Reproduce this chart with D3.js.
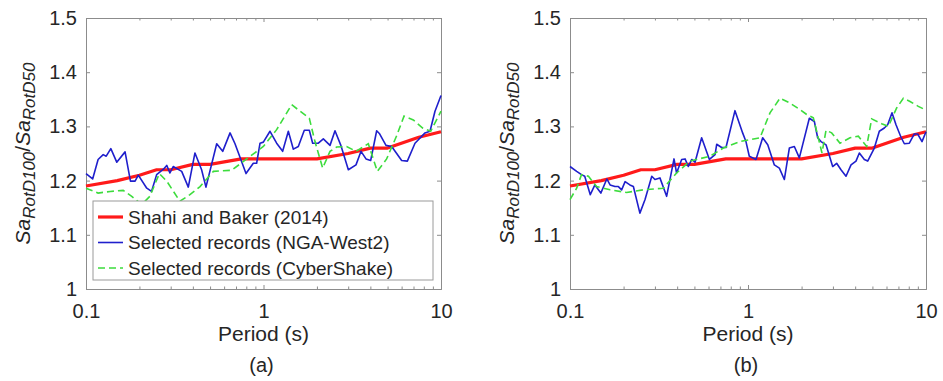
<!DOCTYPE html>
<html>
<head>
<meta charset="utf-8">
<script src="https://cdn.jsdelivr.net/npm/d3@7"></script>
<style>
  body { margin: 0; background: #fff; }
  text { font-family: "Liberation Sans", Arial, sans-serif; fill: #262626; }
</style>
</head>
<body>
<div id="chart"></div>
<script>
// Shahi and Baker (2014) model, same in both panels
const shahiT = [0.1, 0.15, 0.2, 0.25, 0.3, 0.4, 0.5, 0.75, 1, 1.5, 2, 3, 4, 5, 7.5, 10];
const shahiR = [1.19, 1.20, 1.21, 1.22, 1.22, 1.23, 1.23, 1.24, 1.24, 1.24, 1.24, 1.25, 1.26, 1.26, 1.28, 1.29];

// panel (a) - NGA-West2 selection
const ngaA_T = [0.100, 0.109, 0.117, 0.125, 0.130, 0.138, 0.149, 0.166, 0.178, 0.189, 0.197, 0.220, 0.234, 0.250,
  0.273, 0.285, 0.297, 0.310, 0.346, 0.377, 0.411, 0.448, 0.474, 0.545, 0.589, 0.648, 0.691, 0.797, 0.876, 0.915,
  0.956, 0.998, 1.088, 1.186, 1.282, 1.380, 1.473, 1.571, 1.698, 1.812, 1.892, 2.037, 2.173, 2.370, 2.528, 2.721,
  3.006, 3.320, 3.543, 3.780, 4.015, 4.341, 4.494, 4.899, 5.274, 6.003, 6.462, 7.136, 8.126, 8.670, 9.251, 10];
const ngaA_R = [1.213, 1.203, 1.239, 1.248, 1.245, 1.259, 1.234, 1.253, 1.199, 1.199, 1.210, 1.186, 1.180, 1.211,
  1.221, 1.228, 1.214, 1.226, 1.217, 1.188, 1.251, 1.220, 1.188, 1.268, 1.254, 1.288, 1.268, 1.213, 1.232, 1.232,
  1.269, 1.271, 1.291, 1.269, 1.254, 1.291, 1.258, 1.263, 1.293, 1.293, 1.269, 1.269, 1.277, 1.265, 1.292, 1.266,
  1.220, 1.229, 1.254, 1.240, 1.237, 1.292, 1.287, 1.265, 1.263, 1.237, 1.236, 1.269, 1.288, 1.291, 1.328, 1.357];

// panel (a) - CyberShake selection
const csA_T = [0.100, 0.117, 0.137, 0.162, 0.181, 0.206, 0.229, 0.259, 0.285, 0.338, 0.385, 0.439, 0.522, 0.662,
  0.804, 0.998, 1.186, 1.441, 1.812, 1.950, 2.154, 2.370, 2.584, 2.940, 3.320, 3.896, 4.378, 4.940, 5.630, 6.190,
  6.980, 7.880, 8.750, 10];
const csA_R = [1.186, 1.177, 1.180, 1.182, 1.171, 1.156, 1.171, 1.213, 1.199, 1.162, 1.174, 1.189, 1.217, 1.219,
  1.240, 1.263, 1.294, 1.340, 1.315, 1.272, 1.223, 1.254, 1.262, 1.263, 1.254, 1.268, 1.217, 1.240, 1.283, 1.319,
  1.312, 1.297, 1.291, 1.328];

// panel (b) - NGA-West2 selection
const ngaB_T = [0.100, 0.109, 0.116, 0.121, 0.130, 0.138, 0.149, 0.161, 0.168, 0.179, 0.187, 0.195, 0.204, 0.217,
  0.227, 0.247, 0.264, 0.288, 0.300, 0.320, 0.349, 0.384, 0.397, 0.424, 0.443, 0.462, 0.483, 0.504, 0.549, 0.607,
  0.653, 0.667, 0.711, 0.752, 0.845, 0.933, 0.974, 1.017, 1.109, 1.209, 1.291, 1.406, 1.500, 1.600, 1.707, 1.821,
  1.943, 2.211, 2.359, 2.463, 2.572, 2.744, 2.990, 3.148, 3.330, 3.553, 3.791, 4.044, 4.222, 4.504, 4.703, 5.126,
  5.467, 5.834, 6.091, 6.442, 6.784, 7.238, 7.557, 8.061, 8.600, 8.979, 9.496, 10];
const ngaB_R = [1.226, 1.217, 1.211, 1.208, 1.174, 1.192, 1.177, 1.203, 1.192, 1.189, 1.189, 1.183, 1.198, 1.192,
  1.189, 1.140, 1.165, 1.208, 1.202, 1.205, 1.171, 1.240, 1.214, 1.239, 1.240, 1.226, 1.239, 1.234, 1.279, 1.239,
  1.248, 1.267, 1.261, 1.261, 1.329, 1.288, 1.272, 1.245, 1.239, 1.279, 1.266, 1.229, 1.223, 1.202, 1.260, 1.263,
  1.242, 1.315, 1.309, 1.279, 1.272, 1.266, 1.226, 1.232, 1.220, 1.208, 1.229, 1.236, 1.251, 1.239, 1.236, 1.260,
  1.291, 1.297, 1.303, 1.325, 1.303, 1.280, 1.268, 1.269, 1.286, 1.286, 1.272, 1.290];

// panel (b) - CyberShake selection
const csB_T = [0.100, 0.109, 0.116, 0.127, 0.141, 0.168, 0.208, 0.258, 0.334, 0.397, 0.472, 0.612, 0.727, 0.902,
  1.168, 1.329, 1.513, 1.722, 1.960, 2.136, 2.328, 2.604, 2.744, 2.951, 3.288, 3.741, 4.168, 4.642, 4.952, 5.636,
  6.143, 6.842, 7.459, 8.132, 9.056, 10];
const csB_R = [1.165, 1.186, 1.211, 1.208, 1.189, 1.183, 1.178, 1.183, 1.186, 1.214, 1.236, 1.245, 1.260, 1.272,
  1.279, 1.325, 1.352, 1.343, 1.331, 1.322, 1.316, 1.251, 1.293, 1.288, 1.269, 1.279, 1.282, 1.263, 1.314, 1.305,
  1.300, 1.334, 1.352, 1.346, 1.337, 1.330];

const xTicks = [0.1, 1, 10];
const yTicks = [1, 1.1, 1.2, 1.3, 1.4, 1.5];
const legendLabels = ["Shahi and Baker (2014)", "Selected records (NGA-West2)", "Selected records (CyberShake)"];

const W = 943, H = 381;
const plotTop = 18, plotBottom = 289;
const axisColor = "#8c8c8c";

const svg = d3.select("#chart").append("svg")
  .attr("width", W)
  .attr("height", H);

svg.append("rect").attr("width", W).attr("height", H).attr("fill", "#fff");

function zip(T, R) {
  return T.map((t, i) => ({t: t, r: R[i]}));
}

function drawPanel(left, right, nga, cs, tag, withLegend) {
  const x = d3.scaleLog().domain([0.1, 10]).range([left, right]);
  const y = d3.scaleLinear().domain([1, 1.5]).range([plotBottom, plotTop]);
  const g = svg.append("g");

  const minor = x.ticks().filter(d => !xTicks.some(m => Math.abs(m - d) < 1e-9));

  // minor ticks (bottom and top, inward)
  g.append("g")
    .attr("transform", `translate(0,${plotBottom})`)
    .call(d3.axisBottom(x).tickValues(minor).tickSize(-2.5).tickFormat(""));
  g.append("g")
    .attr("transform", `translate(0,${plotTop})`)
    .call(d3.axisTop(x).tickValues(minor).tickSize(-2.5).tickFormat(""));

  // major axes
  const xb = g.append("g")
    .attr("transform", `translate(0,${plotBottom})`)
    .call(d3.axisBottom(x).tickValues(xTicks).tickSizeInner(-4).tickSizeOuter(0).tickPadding(15)
      .tickFormat(d3.format("")));
  g.append("g")
    .attr("transform", `translate(0,${plotTop})`)
    .call(d3.axisTop(x).tickValues(xTicks).tickSizeInner(-4).tickSizeOuter(0).tickFormat(""));
  const yl = g.append("g")
    .attr("transform", `translate(${left},0)`)
    .call(d3.axisLeft(y).tickValues(yTicks).tickSizeInner(-4).tickSizeOuter(0).tickPadding(9)
      .tickFormat(d => d === 1 ? "1" : d3.format(".1f")(d)));
  g.append("g")
    .attr("transform", `translate(${right},0)`)
    .call(d3.axisRight(y).tickValues(yTicks).tickSizeInner(-4).tickSizeOuter(0).tickFormat(""));

  g.selectAll(".domain, .tick line").attr("stroke", axisColor);
  xb.selectAll("text").attr("font-size", "20px").attr("font-family", null).attr("fill", "#262626");
  yl.selectAll("text").attr("font-size", "20px").attr("font-family", null).attr("fill", "#262626");
  g.selectAll(".tick text").attr("font-family", null);

  const line = d3.line().x(d => x(d.t)).y(d => y(d.r));

  g.append("path").datum(zip(shahiT, shahiR))
    .attr("fill", "none").attr("stroke", "#ff1a1a").attr("stroke-width", 3.2)
    .attr("stroke-linejoin", "round").attr("d", line);
  g.append("path").datum(nga)
    .attr("fill", "none").attr("stroke", "#1f1fcc").attr("stroke-width", 1.6)
    .attr("stroke-linejoin", "round").attr("d", line);
  g.append("path").datum(cs)
    .attr("fill", "none").attr("stroke", "#3ddc3d").attr("stroke-width", 1.6)
    .attr("stroke-dasharray", "7,4").attr("d", line);

  // axis titles
  const cx = (left + right) / 2;
  g.append("text").attr("x", cx).attr("y", 341).attr("text-anchor", "middle")
    .attr("font-size", "21px").text("Period (s)");
  g.append("text").attr("x", cx - 2).attr("y", 372).attr("text-anchor", "middle")
    .attr("font-size", "20px").text(tag);

  const yt = g.append("text")
    .attr("transform", `translate(${left - 56},${(plotTop + plotBottom) / 2}) rotate(-90)`)
    .attr("text-anchor", "middle")
    .attr("font-size", "21px")
    .attr("font-style", "italic");
  yt.append("tspan").text("Sa");
  yt.append("tspan").attr("font-size", "17px").attr("dy", 5).text("RotD100");
  yt.append("tspan").attr("dy", -5).attr("font-style", "normal").text("/");
  yt.append("tspan").text("Sa");
  yt.append("tspan").attr("font-size", "17px").attr("dy", 5).text("RotD50");

  if (withLegend) {
    const lg = g.append("g");
    lg.append("rect")
      .attr("x", left + 7).attr("y", 201)
      .attr("width", 340).attr("height", 79)
      .attr("fill", "#fff").attr("stroke", "#9a9a9a");
    const styles = [
      {c: "#ff1a1a", w: 3.2, dash: null},
      {c: "#1f1fcc", w: 1.6, dash: null},
      {c: "#3ddc3d", w: 1.6, dash: "7,4"}
    ];
    legendLabels.forEach((lab, i) => {
      const ry = 217 + i * 25.5;
      lg.append("line")
        .attr("x1", left + 12).attr("x2", left + 37)
        .attr("y1", ry).attr("y2", ry)
        .attr("stroke", styles[i].c).attr("stroke-width", styles[i].w)
        .attr("stroke-dasharray", styles[i].dash);
      lg.append("text")
        .attr("x", left + 42).attr("y", ry)
        .attr("dy", "0.35em")
        .attr("font-size", "19px")
        .text(lab);
    });
  }
}

drawPanel(86, 441, zip(ngaA_T, ngaA_R), zip(csA_T, csA_R), "(a)", true);
drawPanel(570, 926, zip(ngaB_T, ngaB_R), zip(csB_T, csB_R), "(b)", false);
</script>
</body>
</html>
